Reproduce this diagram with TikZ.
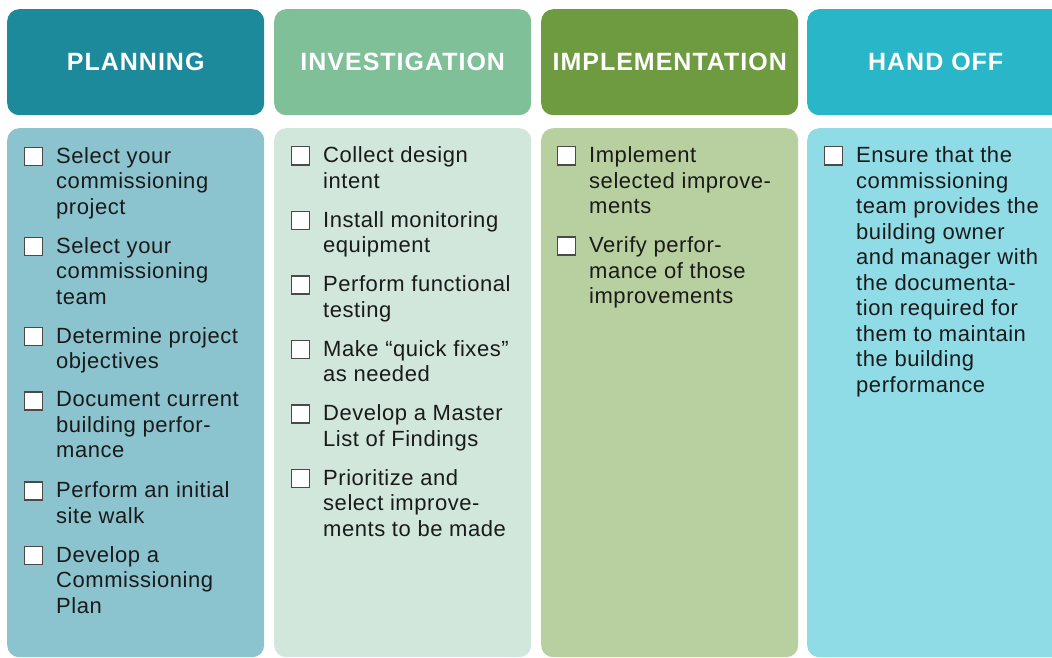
\documentclass[tikz,border=0pt]{standalone}
\usepackage{fontspec}
\setmainfont{Liberation Sans}
\newfontfamily\headfont[LetterSpace=4]{Liberation Sans}
\newfontfamily\listfont[LetterSpace=2.5]{Liberation Sans}
\usetikzlibrary{positioning}

% column colours
\definecolor{planhd}{HTML}{1C8A9B}
\definecolor{planbg}{HTML}{8BC4CF}
\definecolor{investhd}{HTML}{80C098}
\definecolor{investbg}{HTML}{D1E7DC}
\definecolor{implhd}{HTML}{6E9B40}
\definecolor{implbg}{HTML}{B8CFA0}
\definecolor{handhd}{HTML}{28B6C8}
\definecolor{handbg}{HTML}{8FDCE6}
\definecolor{inkdark}{HTML}{1A1A1A}
\definecolor{boxgray}{HTML}{4A4A4A}

\tikzset{
  colhead/.style={rounded corners=12pt, minimum width=257pt, minimum height=106pt,
    anchor=north west, inner sep=0pt, text=white,
    font=\headfont\bfseries\fontsize{25}{30}\selectfont},
  colpanel/.style={rounded corners=12pt, minimum width=257pt, minimum height=529pt,
    anchor=north west, inner sep=0pt},
  % first line always 18pt tall, so north sits 18pt over the first baseline
  entry/.style={anchor=north west, align=left, inner sep=0pt, text=inkdark,
    font=\listfont\fontsize{22}{25.5}\selectfont,
    execute at begin node={\rule{0pt}{18pt}}},
  tickbox/.style={draw=boxgray, fill=white, line width=1.3pt, minimum size=18pt,
    inner sep=0pt, anchor=south east},
}

\begin{document}
\begin{tikzpicture}[x=1pt, y=1pt]
  \useasboundingbox (0,0) rectangle (1052,-658);
  \clip (0,0) rectangle (1052,-658);

  % Headers
  \node[colhead, fill=planhd] (plan-head) at (7,-9) {PLANNING};
  \node[colhead, fill=investhd] (invest-head) at (274,-9) {INVESTIGATION};
  \node[colhead, fill=implhd] (impl-head) at (541,-9) {IMPLEMENTATION};
  \node[colhead, fill=handhd] (hand-head) at (807,-9) {HAND OFF};

  % Panels
  \node[colpanel, fill=planbg] (plan-body) at (7,-128) {};
  \node[colpanel, fill=investbg] (invest-body) at (274,-128) {};
  \node[colpanel, fill=implbg] (impl-body) at (541,-128) {};
  \node[colpanel, fill=handbg] (hand-body) at (807,-128) {};

  % Planning
  \foreach \y/\txt [count=\n] in {147/{Select your\\commissioning\\project},
      237/{Select your\\commissioning\\team},
      327/{Determine project\\objectives},
      391.5/{Document current\\building perfor-\\mance},
      481.5/{Perform an initial\\site walk},
      546/{Develop a\\Commissioning\\Plan}}
  {
    \node[entry] (plan-\n) at (56,-\y) {\txt};
    \node[tickbox] at ([xshift=-13pt,yshift=-19pt]plan-\n.north west) {};
  }

  % Investigation
  \foreach \y/\txt [count=\n] in {146.5/{Collect design\\intent},
      211/{Install monitoring\\equipment},
      275.5/{Perform functional\\testing},
      340/{Make “quick fixes”\\as needed},
      404.5/{Develop a Master\\List of Findings},
      469/{Prioritize and\\select improve-\\ments to be made}}
  {
    \node[entry] (invest-\n) at (323,-\y) {\txt};
    \node[tickbox] at ([xshift=-13pt,yshift=-19pt]invest-\n.north west) {};
  }

  % Implementation
  \foreach \y/\txt [count=\n] in {146.5/{Implement\\selected improve-\\ments},
      236.5/{Verify perfor-\\mance of those\\improvements}}
  {
    \node[entry] (impl-\n) at (589,-\y) {\txt};
    \node[tickbox] at ([xshift=-13pt,yshift=-19pt]impl-\n.north west) {};
  }

  % Hand off
  \node[entry] (hand-1) at (856,-146.5) {Ensure that the\\commissioning\\team provides the\\building owner\\and manager with\\the documenta-\\tion required for\\them to maintain\\the building\\performance};
  \node[tickbox] at ([xshift=-13pt,yshift=-19pt]hand-1.north west) {};
\end{tikzpicture}
\end{document}
